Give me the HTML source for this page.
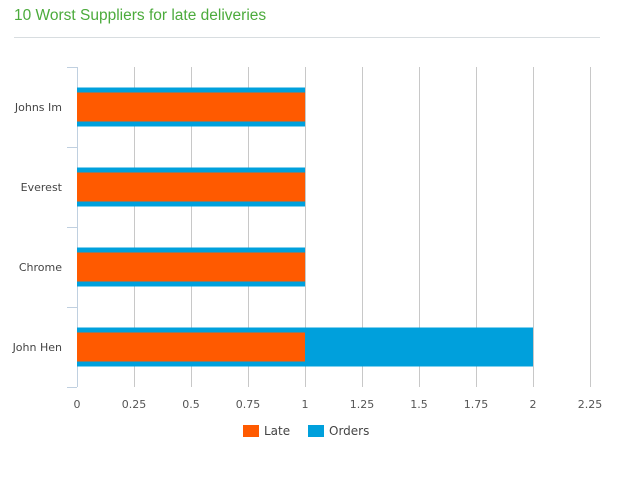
<!DOCTYPE html>
<html><head><meta charset="utf-8"><style>
body{margin:0;background:#fff;font-family:"Liberation Sans",sans-serif;}
svg text{font-family:"DejaVu Sans","Liberation Sans",sans-serif;}
</style></head><body>
<div style="position:relative;width:620px;height:477px;overflow:hidden">
<div style="position:absolute;left:14px;top:7px;font-size:15.5px;color:#4cab3c;">10 Worst Suppliers for late deliveries</div>
<div style="position:absolute;left:14px;top:37px;width:586px;height:1px;background:#d8dde0"></div>
<svg id="c" width="620" height="477" style="position:absolute;left:0;top:0"></svg>
</div>
<script>
const categories=["Johns Im","Everest","Chrome","John Hen"];
const lateValues=[1,1,1,1];
const orderValues=[1,1,1,2];
const ticks=[0,0.25,0.5,0.75,1,1.25,1.5,1.75,2,2.25];
const seriesNames=["Late","Orders"];
const colors=["#ff5a00","#00a0dc"];
const svg=document.getElementById('c');const NS='http://www.w3.org/2000/svg';
const X0=77,UNIT=228,TOP=67,BOT=387;
const band=(BOT-TOP)/categories.length;
const x=v=>X0+v*UNIT;
function mk(t,a,txt){const e=document.createElementNS(NS,t);for(const k in a)e.setAttribute(k,a[k]);if(txt!=null)e.textContent=txt;svg.appendChild(e);return e;}
ticks.forEach(t=>{
 if(t>0){const g=mk('line',{x1:x(t)+.5,x2:x(t)+.5,y1:TOP,y2:BOT,stroke:'#c8c8c8'});
 
 }
 const l=mk('text',{x:x(t),y:408,'text-anchor':'middle','font-size':11,fill:'#555'},String(t));
 
 
});
const ax=mk('line',{x1:X0+.5,x2:X0+.5,y1:TOP,y2:BOT,stroke:'#c0d0e0'});


for(let i=0;i<=categories.length;i++){const tk=mk('line',{x1:67,x2:X0,y1:TOP+i*band+.5,y2:TOP+i*band+.5,stroke:'#c0d0e0'});
 
 }
categories.forEach((c,i)=>{
 const cy=TOP+i*band+band/2;
 const lb=mk('text',{x:62,y:cy+4,'text-anchor':'end','font-size':11,fill:'#444'},c);
 
 
 const o=mk('rect',{x:X0,y:cy-19.5,width:x(orderValues[i])-X0,height:39,fill:colors[1]});
 
 
 const l=mk('rect',{x:X0,y:cy-14.5,width:x(lateValues[i])-X0,height:29,fill:colors[0]});
 
 
});
const lx=[243,308];
seriesNames.forEach((n,i)=>{
 const r=mk('rect',{x:lx[i],y:425,width:16,height:12,fill:colors[i]});
 
 
 const t=mk('text',{x:lx[i]+21,y:435,'font-size':12,fill:'#444'},n);
 
 
});
</script>
</body></html>
